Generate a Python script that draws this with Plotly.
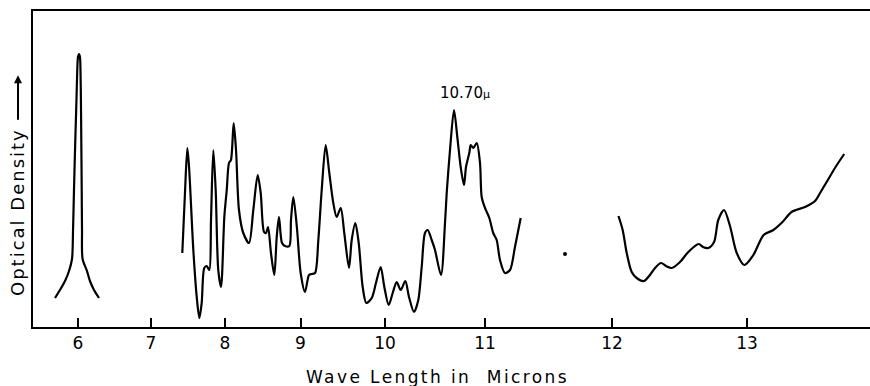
import numpy as np
import plotly.graph_objects as go

# Prism-spectrometer wavelength scale (non-uniform): tick wavelengths and their chart positions
TICK_WL = [6, 7, 8, 9, 10, 11, 12, 13]
TICK_POS = [0, 73, 147, 222.5, 307, 407, 534, 669]
TICK_TEXT = ["6", "7", "8", "9", "10", "11", "12", "13"]

# 6 micron band
band6_wl = [5.685, 5.753, 5.822, 5.877, 5.918, 5.932, 5.945, 5.963, 5.979, 5.990, 6.000, 6.014,
            6.027, 6.034, 6.040, 6.045, 6.051, 6.055, 6.063, 6.123, 6.164, 6.219, 6.288]
band6_od = [29, 37, 46, 56, 68, 97, 137, 187, 227, 257, 270, 273,
            270, 257, 227, 187, 137, 97, 68, 56, 46, 37, 29]

# 7.4 - 11.3 micron region
mid_wl = [7.423, 7.459, 7.491, 7.514, 7.572, 7.618, 7.653, 7.685, 7.720, 7.753, 7.788, 7.811,
          7.842, 7.874, 7.909, 7.946, 7.991, 8.023, 8.053, 8.079, 8.115, 8.146, 8.185, 8.242,
          8.318, 8.375, 8.433, 8.473, 8.517, 8.543, 8.570, 8.609, 8.653, 8.685, 8.715, 8.755,
          8.795, 8.852, 8.874, 8.905, 8.953, 9.002, 9.053, 9.101, 9.133, 9.172, 9.211, 9.251,
          9.298, 9.341, 9.388, 9.428, 9.476, 9.518, 9.574, 9.606, 9.649, 9.689, 9.736, 9.779,
          9.843, 9.893, 9.949, 9.992, 10.037, 10.077, 10.117, 10.157, 10.203, 10.240, 10.290,
          10.333, 10.367, 10.400, 10.427, 10.467, 10.500, 10.560, 10.600, 10.617, 10.650, 10.690,
          10.723, 10.757, 10.790, 10.810, 10.843, 10.857, 10.883, 10.917, 10.950, 10.967, 11.000,
          11.034, 11.065, 11.092, 11.118, 11.157, 11.197, 11.236, 11.281]
mid_od = [74, 134, 179, 160, 77, 30, 9, 24, 59, 61, 57, 107,
          177, 137, 57, 40, 110, 137, 164, 167, 204, 177, 117, 94,
          84, 117, 152, 134, 95, 94, 100, 74, 52, 90, 110, 84,
          81, 81, 107, 130, 99, 54, 35, 52, 53, 54, 87, 137,
          182, 154, 124, 110, 119, 94, 59, 87, 104, 84, 40, 24,
          29, 44, 60, 40, 22, 34, 45, 37, 46, 30, 15,
          27, 60, 94, 97, 87, 77, 52, 104, 134, 177, 217,
          190, 160, 142, 160, 174, 182, 179, 184, 164, 130, 119,
          109, 94, 87, 67, 54, 57, 80, 109]

# 12 - 13.7 micron region
long_wl = [12.048, 12.079, 12.109, 12.146, 12.183, 12.236, 12.281, 12.319, 12.363, 12.400,
           12.442, 12.504, 12.565, 12.642, 12.674, 12.713, 12.756, 12.787, 12.830, 12.874,
           12.924, 12.980, 13.047, 13.123, 13.195, 13.263, 13.330, 13.430, 13.504, 13.541,
           13.590, 13.656, 13.720]
long_od = [111, 97, 74, 55, 49, 46, 52, 59, 64, 61,
           59, 65, 75, 83, 80, 79, 85, 107, 117, 101,
           74, 62, 72, 92, 97, 105, 115, 120, 126, 134,
           145, 160, 173]

# stray point between the regions
stray_wl = [11.63]
stray_od = [73]

PEAK_LABEL_WL = 10.69
PEAK_LABEL_OD = 217


def to_pos(wl):
    wl = np.asarray(wl, dtype=float)
    p = np.interp(wl, TICK_WL, TICK_POS)
    lo = TICK_POS[0] + (wl - TICK_WL[0]) * (TICK_POS[1] - TICK_POS[0]) / (TICK_WL[1] - TICK_WL[0])
    hi = TICK_POS[-1] + (wl - TICK_WL[-1]) * (TICK_POS[-1] - TICK_POS[-2]) / (TICK_WL[-1] - TICK_WL[-2])
    p = np.where(wl < TICK_WL[0], lo, p)
    p = np.where(wl > TICK_WL[-1], hi, p)
    return p


FONT = "DejaVu Sans"
line_style = dict(color="black", width=2.2, shape="spline", smoothing=0.8)

fig = go.Figure()
for xs, ys in [(band6_wl, band6_od), (mid_wl, mid_od), (long_wl, long_od)]:
    fig.add_trace(go.Scatter(x=to_pos(xs), y=ys, mode="lines", line=line_style,
                             hoverinfo="skip", showlegend=False))
fig.add_trace(go.Scatter(x=to_pos(stray_wl), y=stray_od, mode="markers",
                         marker=dict(color="black", size=4), hoverinfo="skip", showlegend=False))

fig.update_xaxes(range=[-45, 792], tickvals=TICK_POS, ticktext=TICK_TEXT,
                 showline=True, linecolor="black", linewidth=2, mirror=True,
                 ticks="inside", ticklen=9, tickwidth=1.5, tickcolor="black",
                 showgrid=False, zeroline=False,
                 tickfont=dict(family=FONT, size=17, color="black"))
fig.update_yaxes(range=[0, 316], showline=True, linecolor="black", linewidth=1.8,
                 showticklabels=False, ticks="", showgrid=False, zeroline=False)

fig.add_annotation(x=float(to_pos([PEAK_LABEL_WL])[0]), y=PEAK_LABEL_OD, xref="x", yref="y",
                   text="10.70<span style='font-size:11px'>µ</span>", showarrow=False,
                   xanchor="center", yanchor="bottom", xshift=11, yshift=6,
                   font=dict(family=FONT, size=15, color="black"))

fig.add_annotation(x=0.483, y=-0.158, xref="paper", yref="paper",
                   text="<span style='letter-spacing:2.4px'>Wave Length in\u00a0\u00a0Microns</span>",
                   showarrow=False, xanchor="center", yanchor="middle",
                   font=dict(family=FONT, size=17, color="black"))

fig.add_annotation(x=-0.0179, y=0.364, xref="paper", yref="paper",
                   text="<span style='letter-spacing:2px'>Optical Density</span>", textangle=-90,
                   showarrow=False, xanchor="center", yanchor="middle",
                   font=dict(family=FONT, size=18, color="black"))
fig.add_annotation(x=-0.0179, y=0.797, xref="paper", yref="paper", text="",
                   showarrow=True, axref="pixel", ayref="pixel", ax=0, ay=46,
                   arrowhead=2, arrowsize=0.8, arrowwidth=2, arrowcolor="black")

fig.update_layout(width=870, height=386, margin=dict(l=33, r=0, t=11, b=59),
                  paper_bgcolor="white", plot_bgcolor="white")

fig.write_html("out.html")
